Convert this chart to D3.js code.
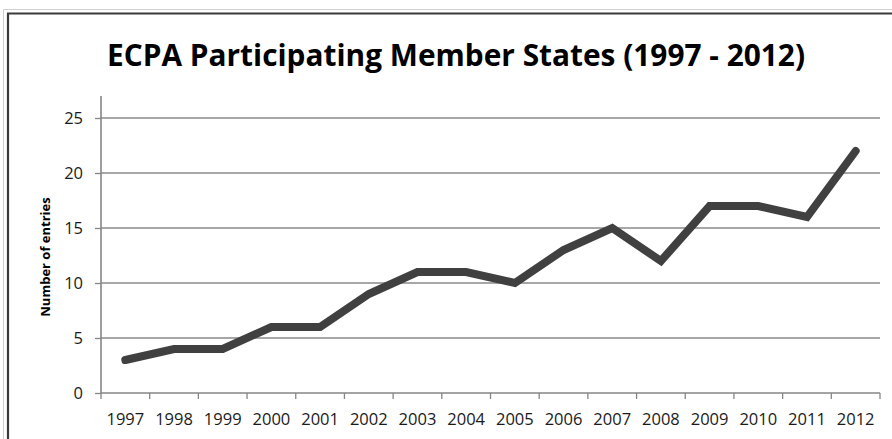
<!DOCTYPE html>
<html><head><meta charset="utf-8">
<script src="https://cdn.jsdelivr.net/npm/d3@7"></script>
<style>body{margin:0;background:#fff}svg{display:block}</style>
</head><body>
<script>
const years = ["1997","1998","1999","2000","2001","2002","2003","2004","2005","2006","2007","2008","2009","2010","2011","2012"];
const entries = [3,4,4,6,6,9,11,11,10,13,15,12,17,17,16,22];
const yTicks = [0,5,10,15,20,25];
const titleText = "ECPA Participating Member States (1997 - 2012)";
const yTitle = "Number of entries";

(function(){
const W = 892, H = 439;
const svg = d3.select("body").append("svg").attr("width", W).attr("height", H);
const font = "'Open Sans', sans-serif";

// frame
svg.append("path").attr("d", `M3.5,${H} V9.5 H${W}`).attr("fill","none").attr("stroke","#d0d0d0").attr("stroke-width",1);
svg.append("path").attr("d", `M8,${H} V13.5 H${W}`).attr("fill","none").attr("stroke","#3a3a3a").attr("stroke-width",2.2);

const pLeft = 101, pRight = 880, pTop = 118, pBottom = 393;
const x = d3.scaleBand().domain(years).range([pLeft, pRight]);
const y = d3.scaleLinear().domain([0, 25]).range([pBottom, pTop]);

// gridlines
svg.append("g").selectAll("line").data(yTicks.filter(d => d > 0)).join("line")
  .attr("x1", pLeft).attr("x2", pRight).attr("y1", d => y(d)).attr("y2", d => y(d))
  .attr("stroke", "#8a8a8a").attr("stroke-width", 1.3);

// y axis
const ya = svg.append("g").attr("transform", `translate(${pLeft},0)`)
  .call(d3.axisLeft(y).tickValues(yTicks).tickSize(6).tickPadding(12));
ya.select(".domain").attr("stroke","#868686").attr("stroke-width",1.6).attr("d", `M0,${pTop-22}V${pBottom}`);
ya.selectAll(".tick line").attr("stroke","#868686").attr("stroke-width",1.3);
ya.selectAll("text").attr("font-family", font).attr("font-size", 16.5).attr("fill","#1a1a1a");

// x axis
const xa = svg.append("g").attr("transform", `translate(0,${pBottom})`)
  .call(d3.axisBottom(x).tickSize(0).tickPadding(20));
xa.select(".domain").attr("stroke","#868686").attr("stroke-width",1.6).attr("d", `M${pLeft},0H${pRight}`);
xa.selectAll("text").attr("font-family", font).attr("font-size", 16.5).attr("fill","#1a1a1a");
const bounds = years.map(d => x(d)).concat([pRight]);
xa.append("g").selectAll("line").data(bounds).join("line")
  .attr("x1", d => d).attr("x2", d => d).attr("y1", 0).attr("y2", 6)
  .attr("stroke","#868686").attr("stroke-width",1.3);

// line
const line = d3.line().x((d,i) => x(years[i]) + x.bandwidth()/2).y(d => y(d));
svg.append("path").datum(entries).attr("d", line)
  .attr("fill","none").attr("stroke","#404040").attr("stroke-width",8)
  .attr("stroke-linejoin","miter").attr("stroke-linecap","round");

// title
svg.append("text").attr("x", 456).attr("y", 66).attr("text-anchor","middle")
  .attr("font-family", font).attr("font-weight","bold").attr("font-size", 30)
  .attr("fill","#000").attr("textLength", 698).attr("lengthAdjust","spacingAndGlyphs").text(titleText);

// y title
svg.append("text").attr("transform", `translate(50,257) rotate(-90)`).attr("text-anchor","middle")
  .attr("font-family", font).attr("font-weight","bold").attr("font-size", 13)
  .attr("fill","#000").text(yTitle);
})();
</script>
</body></html>
